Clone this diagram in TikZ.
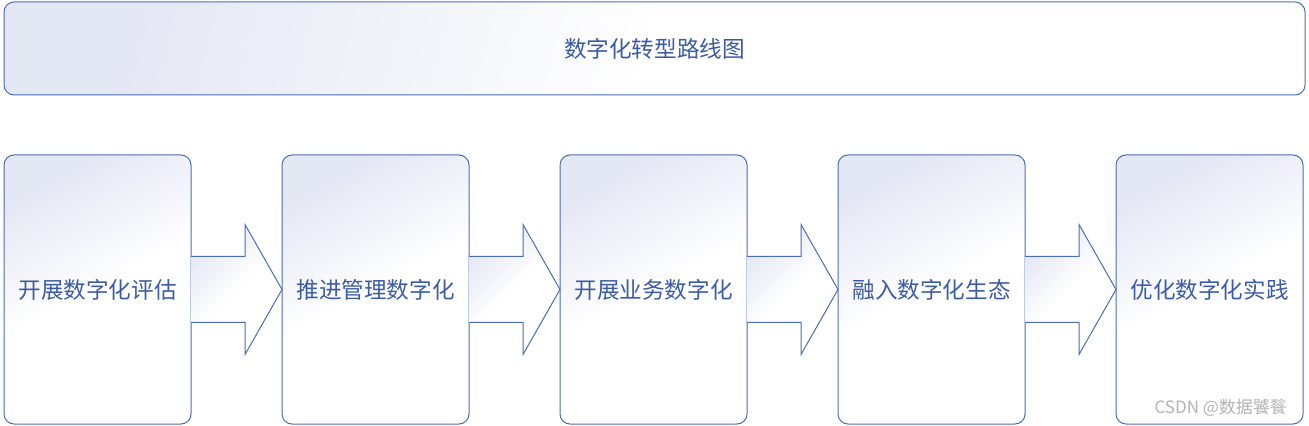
\documentclass[tikz,border=0pt]{standalone}
\usepackage{fontspec}
\setmainfont{Noto Sans CJK SC}
\usepackage{tikz}
\usetikzlibrary{positioning, calc, shapes}

\definecolor{framecol}{HTML}{4A6DB8}
\definecolor{textcol}{HTML}{3B5BA5}
\definecolor{lavender}{HTML}{E4E7F4}
\definecolor{markcol}{HTML}{B4B4B4}

\begin{document}
\begin{tikzpicture}[
    node distance=45.5pt,
    every node/.style={font=\fontsize{11.3pt}{14pt}\selectfont, text=textcol},
    fade/.style={shading=axis, top color=lavender, bottom color=white, middle color=white, shading angle=#1},
    stage/.style={rectangle, rounded corners=5pt, draw=framecol, line width=0.5pt, outer sep=0pt, fade=28, minimum width=93.5pt, minimum height=134.5pt, inner sep=0pt},
    banner/.style={rectangle, rounded corners=5pt, draw=framecol, line width=0.5pt, fade=75, minimum width=650.5pt, minimum height=46.5pt},
    flow/.style={draw=framecol, line width=0.5pt, fade=45, line join=miter}
]

\useasboundingbox (0,0) rectangle (654.5pt,-213pt);

% Title
\node[banner] (title) at (327.25pt,-24.25pt) {数字化转型路线图};

% Stages
\node[stage] (s1) at (48.75pt,-144.75pt) {开展数字化评估};
\node[stage, right=of s1] (s2) {推进管理数字化};
\node[stage, right=of s2] (s3) {开展业务数字化};
\node[stage, right=of s3] (s4) {融入数字化生态};
\node[stage, right=of s4] (s5) {优化数字化实践};

% Block arrows between stages
\foreach \a/\b in {s1/s2, s2/s3, s3/s4, s4/s5}{
  \draw[flow] ($(\a.east)+(0,16.5pt)$) -- ++(27pt,0) -- ++(0,16pt)
    -- (\b.west) -- ($(\a.east)+(27pt,-32.5pt)$) -- ++(0,16pt)
    -- ($(\a.east)+(0,-16.5pt)$);
}

% Watermark
\node[anchor=east, text=markcol, font=\fontsize{8.5pt}{10pt}\selectfont] (mark) at (647pt,-204pt) {CSDN @数据饕餮};

\end{tikzpicture}
\end{document}
